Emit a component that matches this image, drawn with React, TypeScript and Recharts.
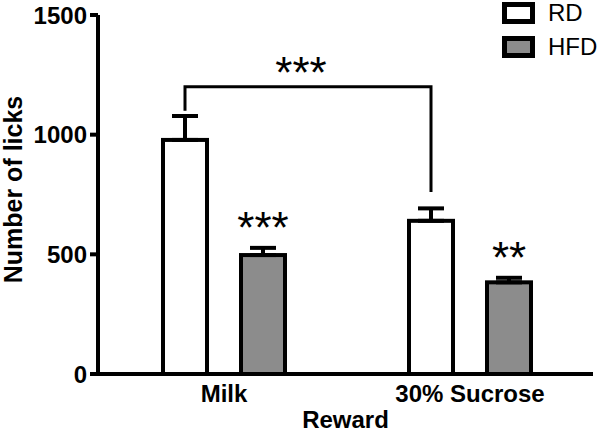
import React from 'react';
import { BarChart, Bar, XAxis, YAxis, ErrorBar, Legend, Label } from 'recharts';

const FONT = '"Liberation Sans", Arial, sans-serif';

const categories = ['Milk', '30% Sucrose'];
const seriesNames = ['RD', 'HFD'];
const rdMean = [978, 640];
const rdSem = [100, 52];
const hfdMean = [497, 383];
const hfdSem = [30, 19];
const hfdStars = ['***', '**'];
const yTicks = [0, 500, 1000, 1500];
// bracket RD milk vs RD sucrose (values on the y scale)
const bracketTop = 1200;
const bracketEnds = [1100, 760];
const bracketStars = '***';

const data = categories.map((reward, i) => ({
  reward,
  rd: rdMean[i],
  rdErr: [0, rdSem[i]],
  hfd: hfdMean[i],
  hfdErr: [0, hfdSem[i]],
}));

// geometry of the RD bars, filled while the shapes render
const rdPos: { cx: number; base: number; k: number }[] = [];

const RdShape = (props: any) => {
  const { x, y, width, height, index, payload } = props;
  const k = height / payload.rd;
  const base = y + height;
  rdPos[index] = { cx: x + width / 2, base, k };
  let bracket = null;
  if (index === categories.length - 1 && rdPos[0]) {
    const a = rdPos[0];
    const bx = x + width / 2;
    const yTop = base - bracketTop * k;
    const yA = a.base - bracketEnds[0] * a.k;
    const yB = base - bracketEnds[1] * k;
    bracket = (
      <g>
        <path d={`M${a.cx},${yA}V${yTop}H${bx}V${yB}`} fill="none" stroke="#000" strokeWidth={3} />
        <text x={(a.cx + bx) / 2 - 7} y={yTop + 1} textAnchor="middle" fontSize={44} fontFamily={FONT} fill="#000">
          {bracketStars}
        </text>
      </g>
    );
  }
  return (
    <g>
      <rect x={x} y={y} width={width} height={height} fill="#fff" stroke="#000" strokeWidth={4} />
      {bracket}
    </g>
  );
};

const HfdShape = (props: any) => {
  const { x, y, width, height, index, payload } = props;
  const k = height / payload.hfd;
  const errTop = y - hfdSem[index] * k;
  return (
    <g>
      <rect x={x} y={y} width={width} height={height} fill="#8c8c8c" stroke="#000" strokeWidth={4} />
      <text x={x + width / 2} y={errTop - 5} textAnchor="middle" fontSize={44} fontFamily={FONT} fill="#000">
        {hfdStars[index]}
      </text>
    </g>
  );
};

const CatTick = (props: any) => {
  const { x, y, payload } = props;
  return (
    <text x={x} y={y} dy={28} textAnchor="middle" fontSize={24} fontWeight="bold" fontFamily={FONT} fill="#000">
      {payload.value}
    </text>
  );
};

const YTitle = (props: any) => {
  const vb = props.viewBox;
  const cx = vb.x + 22;
  const cy = vb.y + vb.height / 2 - 5;
  return (
    <text x={cx} y={cy} transform={`rotate(-90 ${cx} ${cy})`} textAnchor="middle" fontSize={25} fontWeight="bold" fontFamily={FONT} fill="#000">
      Number of licks
    </text>
  );
};

const XTitle = (props: any) => {
  const vb = props.viewBox;
  return (
    <text x={vb.x + vb.width / 2} y={vb.y + 54} textAnchor="middle" fontSize={24} fontWeight="bold" fontFamily={FONT} fill="#000">
      Reward
    </text>
  );
};

const LegendBox = (props: any) => {
  const items = [...(props.payload || [])].sort(
    (a: any, b: any) => seriesNames.indexOf(a.value) - seriesNames.indexOf(b.value)
  );
  return (
    <div style={{ fontFamily: FONT, fontSize: 24, color: '#000' }}>
      {items.map((it: any) => (
        <div key={it.value} style={{ display: 'flex', alignItems: 'center', height: 22, marginBottom: 12 }}>
          <div style={{ width: 33, height: 22, boxSizing: 'border-box', border: '5px solid #000', background: it.color }} />
          <span style={{ marginLeft: 13, lineHeight: '22px' }}>{it.value}</span>
        </div>
      ))}
    </div>
  );
};

export default function App() {
  return (
    <div style={{ position: 'absolute', left: 0, top: 0, width: 600, height: 440, background: '#fff' }}>
      <BarChart width={600} height={440} data={data} margin={{ top: 15, right: 7, left: 0, bottom: 0 }} barSize={44} barGap={34}>
        <XAxis
          dataKey="reward"
          height={66}
          tickLine={false}
          tickSize={0}
          tickMargin={0}
          padding={{ left: 3, right: 0 }}
          axisLine={{ stroke: '#000', strokeWidth: 4 }}
          tick={<CatTick />}
        >
          <Label content={<XTitle />} />
        </XAxis>
        <YAxis
          domain={[0, 1500]}
          ticks={yTicks}
          interval={0}
          width={98}
          tickSize={8}
          tickMargin={3}
          axisLine={{ stroke: '#000', strokeWidth: 4 }}
          tickLine={{ stroke: '#000', strokeWidth: 4 }}
          tick={{ fill: '#000', fontSize: 24, fontWeight: 'bold', fontFamily: FONT }}
        >
          <Label content={<YTitle />} />
        </YAxis>
        <Legend
          layout="horizontal"
          verticalAlign="middle"
          align="center"
          content={<LegendBox />}
          wrapperStyle={{ top: 2, left: 502, width: 98 }}
        />
        <Bar dataKey="rd" name={seriesNames[0]} fill="#ffffff" shape={<RdShape />} isAnimationActive={false}>
          <ErrorBar dataKey="rdErr" width={13} stroke="#000" strokeWidth={4} direction="y" />
        </Bar>
        <Bar dataKey="hfd" name={seriesNames[1]} fill="#8c8c8c" shape={<HfdShape />} isAnimationActive={false}>
          <ErrorBar dataKey="hfdErr" width={13} stroke="#000" strokeWidth={4} direction="y" />
        </Bar>
      </BarChart>
    </div>
  );
}
